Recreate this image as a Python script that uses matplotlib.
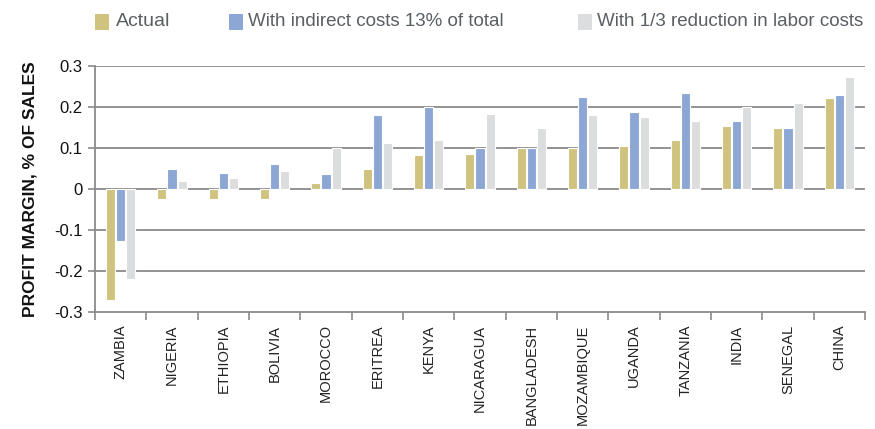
import numpy as np
import matplotlib.pyplot as plt
from matplotlib.patches import Rectangle

countries = ["ZAMBIA", "NIGERIA", "ETHIOPIA", "BOLIVIA", "MOROCCO", "ERITREA", "KENYA",
             "NICARAGUA", "BANGLADESH", "MOZAMBIQUE", "UGANDA", "TANZANIA", "INDIA",
             "SENEGAL", "CHINA"]
actual = [-0.271, -0.024, -0.024, -0.024, 0.015, 0.050, 0.082,
          0.085, 0.099, 0.099, 0.106, 0.120, 0.154, 0.150, 0.221]
indirect = [-0.127, 0.050, 0.039, 0.061, 0.037, 0.180, 0.199,
            0.099, 0.099, 0.225, 0.187, 0.233, 0.167, 0.150, 0.229]
labor = [-0.219, 0.020, 0.026, 0.044, 0.099, 0.111, 0.120,
         0.182, 0.149, 0.180, 0.176, 0.167, 0.199, 0.210, 0.273]
series_names = ["Actual", "With indirect costs 13% of total", "With 1/3 reduction in labor costs"]
yticks = [-0.3, -0.2, -0.1, 0, 0.1, 0.2, 0.3]
ytick_labels = ["-0.3", "-0.2", "-0.1", "0", "0.1", "0.2", "0.3"]

COLORS = ["#CFC37F", "#8DA7D4", "#DCDDDF"]
plt.rcParams['font.family'] = ["Liberation Sans", "DejaVu Sans"]

W, H = 875, 429
fig = plt.figure(figsize=(W / 100, H / 100), dpi=100)
ax = fig.add_axes([95 / W, 1 - 312 / H, 770 / W, 246 / H])

x = np.arange(len(countries))
width = 0.178
step = 0.198
for i, (vals, col) in enumerate(zip([actual, indirect, labor], COLORS)):
    ax.bar(x + (i - 1) * step, vals, width=width, color=col, edgecolor='white',
           linewidth=0.8, zorder=3)

ax.set_xlim(-0.5, len(countries) - 0.5)
ax.set_ylim(-0.3, 0.3)

# gridlines
for y in yticks[1:]:
    ax.axhline(y, color='#8A8A8A', linewidth=1.3, zorder=1)

for s in ['top', 'right']:
    ax.spines[s].set_visible(False)
for s in ['left', 'bottom']:
    ax.spines[s].set_color('#8A8A8A')
    ax.spines[s].set_linewidth(1.3)

ax.set_yticks(yticks)
ax.set_yticklabels(ytick_labels, fontsize=12, color='#111111')
ax.tick_params(axis='y', length=5, color='#8A8A8A', width=1.2, pad=4)

ax.set_xticks(x)
ax.set_xticklabels(countries, rotation=90, fontsize=10.5, color='#222222', va='top')
ax.tick_params(axis='x', which='major', length=0, pad=9)
ax.set_xticks(np.arange(-0.5, len(countries)), minor=True)
ax.tick_params(axis='x', which='minor', length=6, color='#8A8A8A', width=1.2)

ax.set_ylabel("PROFIT MARGIN, % OF SALES", fontsize=12.5, fontweight='bold',
              color='#111111', labelpad=12)

# legend drawn by hand so it fits across the top
leg_square_x = [95, 229, 578]
leg_text_x = [116, 248, 597]
leg_fs = [14, 13.5, 13.5]
for sx, tx, col, name, fs in zip(leg_square_x, leg_text_x, COLORS, series_names, leg_fs):
    fig.patches.append(Rectangle((sx / W, 1 - 30 / H), 14 / W, 16 / H,
                                 transform=fig.transFigure, facecolor=col, edgecolor='none'))
    fig.text(tx / W, 1 - 22 / H, name, fontsize=fs, color='#5A5F63', va='center', ha='left')

fig.savefig("out.png", dpi=100)
